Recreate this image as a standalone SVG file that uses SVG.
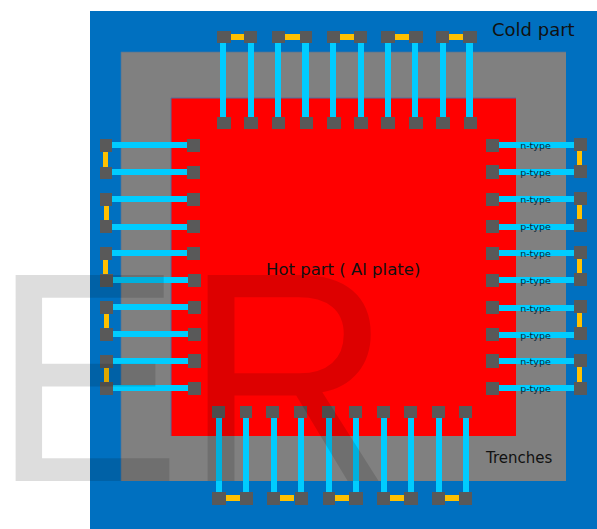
<svg xmlns="http://www.w3.org/2000/svg" width="597" height="529" viewBox="0 0 597 529">
<style>
.p{fill:#595959}
.l{fill:#00ccff}
.y{fill:#ffc000}
text{font-family:"DejaVu Sans",Verdana,sans-serif;fill:#111}
.t{font-size:9.5px;text-anchor:middle;fill:#0b2a3a}
.w{font-family:"Liberation Sans",Arial,sans-serif;font-size:288px;fill:#000;fill-opacity:.135}
</style>
<rect width="597" height="529" fill="#fff"/>
<g id="cold-part"><rect x="90" y="11" width="507" height="518" fill="#0070c0"/><text x="492" y="36" font-size="18">Cold part</text></g>
<g id="trenches"><rect x="121" y="52" width="445" height="429" fill="#808080"/><path d="M121 481V52H566" fill="none" stroke="#4f7399" stroke-width="0.7"/><text x="486" y="462.500" font-size="15">Trenches</text></g>
<g id="hot-part"><rect x="171" y="98" width="345" height="338" fill="#ff0000"/><path d="M171 436V98H516" fill="none" stroke="#4f6f9f" stroke-width="1"/></g>
<g id="connectors">
<g class="l">
<rect x="220" y="43" width="6" height="74"/><rect x="248" y="43" width="6" height="74"/><rect x="275" y="43" width="6" height="74"/><rect x="302" y="43" width="7" height="74"/><rect x="330" y="43" width="6" height="74"/><rect x="358" y="43" width="6" height="74"/><rect x="385" y="43" width="6" height="74"/><rect x="412" y="43" width="6" height="74"/><rect x="440" y="43" width="6" height="74"/><rect x="466" y="43" width="7" height="74"/>
<rect x="216" y="418" width="6" height="74"/><rect x="243" y="418" width="6" height="74"/><rect x="271" y="418" width="6" height="74"/><rect x="298" y="418" width="6" height="74"/><rect x="326" y="418" width="6" height="74"/><rect x="353" y="418" width="6" height="74"/><rect x="381" y="418" width="6" height="74"/><rect x="408" y="418" width="6" height="74"/><rect x="436" y="418" width="6" height="74"/><rect x="463" y="418" width="6" height="74"/>
<rect x="112" y="142" width="76" height="6"/><rect x="112" y="169" width="76" height="6"/><rect x="112" y="196" width="76" height="6"/><rect x="112" y="224" width="76" height="6"/><rect x="112" y="250" width="76" height="6"/><rect x="112" y="277" width="76" height="6"/><rect x="112" y="304" width="76" height="6"/><rect x="112" y="331" width="76" height="6"/><rect x="112" y="358" width="76" height="6"/><rect x="112" y="385" width="76" height="6"/>
<rect x="499" y="142" width="75" height="6"/><rect x="499" y="169" width="75" height="6"/><rect x="499" y="196" width="75" height="6"/><rect x="499" y="224" width="75" height="6"/><rect x="499" y="250" width="75" height="6"/><rect x="499" y="277" width="75" height="6"/><rect x="499" y="305" width="75" height="6"/><rect x="499" y="332" width="75" height="6"/><rect x="499" y="358" width="75" height="6"/><rect x="499" y="385" width="75" height="6"/>
</g>
<g class="y">
<rect x="231" y="34" width="13" height="6"/><rect x="285" y="34" width="15" height="6"/><rect x="340" y="34" width="14" height="6"/><rect x="395" y="34" width="14" height="6"/><rect x="449" y="34" width="14" height="6"/>
<rect x="226" y="495" width="14" height="6"/><rect x="280" y="495" width="14" height="6"/><rect x="335" y="495" width="14" height="6"/><rect x="390" y="495" width="14" height="6"/><rect x="445" y="495" width="14" height="6"/>
<rect x="103" y="151" width="5" height="16"/><rect x="104" y="205" width="5" height="15"/><rect x="103" y="259" width="5" height="15"/><rect x="104" y="313" width="5" height="15"/><rect x="104" y="367" width="5" height="15"/>
<rect x="577" y="151" width="5" height="15"/><rect x="577" y="205" width="5" height="15"/><rect x="577" y="259" width="5" height="15"/><rect x="577" y="313" width="5" height="15"/><rect x="577" y="367" width="5" height="15"/>
</g>
</g>
<g id="top-pads" class="p">
<rect x="217" y="31" width="14" height="12"/><rect x="244" y="31" width="13" height="12"/><rect x="272" y="31" width="13" height="12"/><rect x="300" y="31" width="12" height="12"/><rect x="327" y="31" width="13" height="12"/><rect x="354" y="31" width="13" height="12"/><rect x="381" y="31" width="14" height="12"/><rect x="409" y="31" width="14" height="12"/><rect x="436" y="31" width="13" height="12"/><rect x="463" y="31" width="14" height="12"/>
<rect x="217" y="117" width="14" height="12"/><rect x="244" y="117" width="14" height="12"/><rect x="272" y="117" width="13" height="12"/><rect x="300" y="117" width="13" height="12"/><rect x="327" y="117" width="14" height="12"/><rect x="354" y="117" width="14" height="12"/><rect x="381" y="117" width="14" height="12"/><rect x="409" y="117" width="14" height="12"/><rect x="436" y="117" width="14" height="12"/><rect x="464" y="117" width="13" height="12"/>
</g>
<g id="bottom-pads" class="p">
<rect x="212" y="406" width="13" height="12"/><rect x="240" y="406" width="12" height="12"/><rect x="266" y="406" width="13" height="12"/><rect x="294" y="406" width="13" height="12"/><rect x="322" y="406" width="13" height="12"/><rect x="349" y="406" width="13" height="12"/><rect x="377" y="406" width="13" height="12"/><rect x="404" y="406" width="13" height="12"/><rect x="432" y="406" width="13" height="12"/><rect x="459" y="406" width="13" height="12"/>
<rect x="212" y="492" width="14" height="13"/><rect x="240" y="492" width="13" height="13"/><rect x="267" y="492" width="13" height="13"/><rect x="295" y="492" width="13" height="13"/><rect x="323" y="492" width="12" height="13"/><rect x="349" y="492" width="14" height="13"/><rect x="377" y="492" width="13" height="13"/><rect x="404" y="492" width="14" height="13"/><rect x="432" y="492" width="13" height="13"/><rect x="459" y="492" width="13" height="13"/>
</g>
<g id="left-pads" class="p">
<rect x="100" y="139" width="12" height="13"/><rect x="100" y="167" width="12" height="12"/><rect x="100" y="193" width="12" height="13"/><rect x="100" y="220" width="12" height="13"/><rect x="100" y="247" width="12" height="13"/><rect x="100" y="274" width="13" height="13"/><rect x="100" y="301" width="13" height="13"/><rect x="100" y="328" width="13" height="13"/><rect x="100" y="355" width="13" height="13"/><rect x="100" y="382" width="13" height="13"/>
<rect x="187" y="139" width="13" height="13"/><rect x="187" y="166" width="13" height="13"/><rect x="187" y="193" width="13" height="13"/><rect x="187" y="220" width="13" height="13"/><rect x="187" y="247" width="13" height="13"/><rect x="188" y="274" width="13" height="13"/><rect x="188" y="301" width="13" height="13"/><rect x="188" y="328" width="13" height="13"/><rect x="188" y="354" width="13" height="14"/><rect x="188" y="382" width="13" height="13"/>
</g>
<g id="right-pads" class="p">
<rect x="486" y="139" width="13" height="13"/><rect x="486" y="165" width="13" height="14"/><rect x="486" y="193" width="13" height="13"/><rect x="486" y="220" width="13" height="13"/><rect x="486" y="247" width="13" height="13"/><rect x="486" y="274" width="13" height="13"/><rect x="486" y="301" width="13" height="13"/><rect x="486" y="328" width="13" height="13"/><rect x="486" y="354" width="13" height="14"/><rect x="486" y="382" width="13" height="13"/>
<rect x="574" y="138" width="13" height="13"/><rect x="574" y="165" width="13" height="13"/><rect x="574" y="192" width="13" height="13"/><rect x="574" y="219" width="13" height="13"/><rect x="574" y="246" width="13" height="13"/><rect x="574" y="273" width="13" height="13"/><rect x="574" y="300" width="13" height="13"/><rect x="574" y="327" width="13" height="13"/><rect x="574" y="354" width="13" height="13"/><rect x="574" y="382" width="13" height="13"/>
</g>
<g id="labels">
<text class="t" x="535.500" y="148.500">n-type</text><text class="t" x="535.500" y="175.500">p-type</text><text class="t" x="535.500" y="202.500">n-type</text><text class="t" x="535.500" y="229.500">p-type</text><text class="t" x="535.500" y="256.500">n-type</text><text class="t" x="535.500" y="283.500">p-type</text><text class="t" x="535.500" y="311.500">n-type</text><text class="t" x="535.500" y="338.500">p-type</text><text class="t" x="535.500" y="364.500">n-type</text><text class="t" x="535.500" y="391.500">p-type</text>
<text x="266" y="274.500" font-size="16.500">Hot part ( Al plate)</text>
</g>
<text class="w" x="-8" y="0" transform="translate(15 481) scale(.985 1.04) translate(-15 0)">E</text>
<text class="w" x="184" y="0" transform="translate(0 481) scale(1 1.04)">R</text>
</svg>
